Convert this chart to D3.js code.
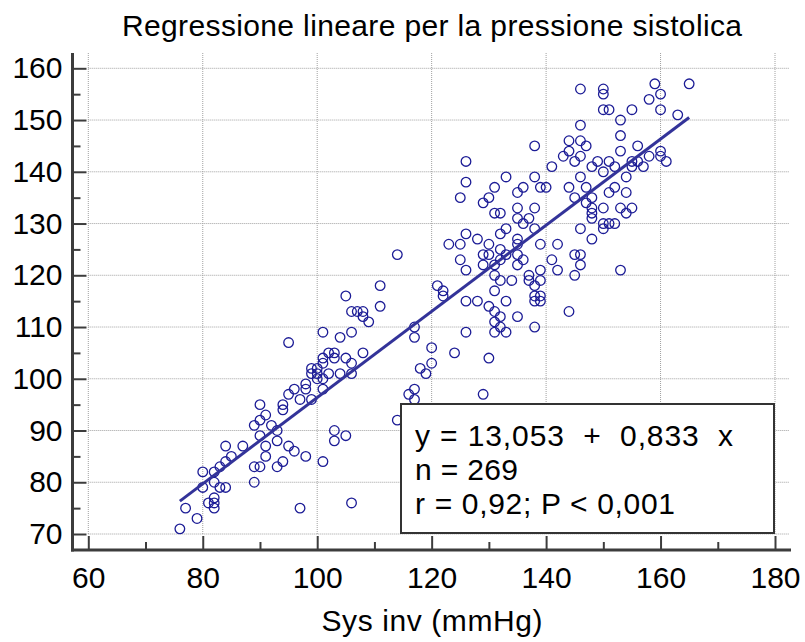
<!DOCTYPE html>
<html><head><meta charset="utf-8">
<script src="https://cdn.jsdelivr.net/npm/d3@7"></script>
<style>
body{margin:0;background:#fff;}
svg text{font-family:"Liberation Sans",Arial,sans-serif;fill:#000;}
</style></head>
<body><svg id="chart" width="805" height="642"></svg>
<script>
const titleText = "Regressione lineare per la pressione sistolica";
const xLabel = "Sys inv (mmHg)";
const xTicks = [60,80,100,120,140,160,180];
const xMinor = [70,90,110,130,150,170];
const yTicks = [70,80,90,100,110,120,130,140,150,160];
const yMinor = [75,85,95,105,115,125,135,145,155];
const intercept = 13.053, slope = 0.833;
const statLines = ["y = 13,053  +  0,833  x", "n = 269", "r = 0,92; P < 0,001"];
const statWidths = [318, 103, 260];

// Sys inv (x) values
const sysInv = [
76,77,79,80,80,81,82,82,82,82,82,83,83,84,84,84,85,87,89,89,90,89,90,90,90,91,91,91,92,93,93,93,94,94,94,
95,95,95,96,96,97,97,98,98,98,99,99,99,100,100,101,101,101,101,101,101,102,102,103,103,103,103,104,104,105,105,
106,106,106,106,107,108,108,109,105,106,108,100,
111,111,114,114,116,117,117,117,117,118,119,120,120,121,122,122,123,124,125,125,125,
126,126,126,126,126,126,128,128,129,129,129,129,130,130,130,130,130,
131,131,131,131,131,131,131,131,132,132,132,132,132,132,132,133,133,133,133,133,134,
135,135,135,135,135,135,135,135,136,136,136,137,137,137,
138,138,138,138,138,138,138,138,139,139,139,139,139,139,140,141,141,142,142,143,
144,144,144,144,145,145,145,145,146,146,146,146,146,146,146,146,
147,147,147,148,148,148,148,148,148,149,150,150,150,150,150,150,150,151,151,151,151,
152,152,152,153,153,153,153,153,154,154,154,155,155,155,155,156,156,157,158,158,159,
160,160,160,160,161,163,165
];
// Sys measured (y) values
const sysMeas = [
71,75,73,82,79,76,82,80,77,76,75,83,79,79,84,87,85,87,80,83,83,91,92,95,89,93,87,85,91,90,88,83,84,95,94,
107,97,87,98,86,96,75,99,98,85,102,101,96,102,100,109,104,103,100,98,84,105,101,105,104,90,88,108,101,104,89,
109,103,76,113,113,113,112,111,116,101,105,101,
118,114,124,92,97,98,96,110,108,102,101,106,103,118,117,116,126,105,126,123,135,
142,138,128,121,115,109,127,115,134,124,122,97,135,126,124,114,104,
137,132,122,120,117,113,111,109,132,128,125,123,119,112,110,139,129,124,115,109,119,
136,133,131,127,126,124,122,112,137,130,123,131,120,119,
145,139,133,129,118,116,115,110,137,126,121,119,116,115,137,141,123,126,121,143,
146,144,137,113,142,135,124,120,156,149,146,143,139,129,124,122,
145,137,134,141,135,133,132,131,127,142,156,155,152,140,133,130,129,152,142,136,130,
141,137,130,150,147,144,133,121,139,136,132,152,142,141,133,145,142,141,154,143,157,
155,152,144,143,142,151,157
];
const points = sysInv.map((v,i)=>({x:v, y:sysMeas[i]}));

const svg = d3.select("#chart");
const x = d3.scaleLinear().domain([60,180]).range([88.3,775]);
const y = d3.scaleLinear().domain([70,160]).range([534,68.3]);
const axL = 72.5, axR = 791, axT = 53, axB = 550;
const axisColor = "#3c3c3c";
const fs = 30;

// grid
const grid = svg.append("g");
grid.selectAll("line.h").data(yTicks).enter().append("line")
  .attr("x1", x(60)).attr("x2", 789).attr("y1", d=>y(d)).attr("y2", d=>y(d))
  .attr("stroke","#a0a0a0").attr("stroke-width",1).attr("stroke-dasharray","1,1");
grid.selectAll("line.v").data(xTicks).enter().append("line")
  .attr("y1", y(70)).attr("y2", axT).attr("x1", d=>x(d)).attr("x2", d=>x(d))
  .attr("stroke","#a0a0a0").attr("stroke-width",1).attr("stroke-dasharray","1,1");

// points
svg.append("g").selectAll("circle").data(points).enter().append("circle")
  .attr("cx", d=>x(d.x)).attr("cy", d=>y(d.y)).attr("r",4.8)
  .attr("fill","none").attr("stroke","#1c1c96").attr("stroke-width",1.3);

// regression line
const ext = d3.extent(sysInv);
svg.append("line")
  .attr("x1", x(ext[0])).attr("y1", y(intercept+slope*ext[0]))
  .attr("x2", x(ext[1])).attr("y2", y(intercept+slope*ext[1]))
  .attr("stroke","#333399").attr("stroke-width",3);

// stats box
const box = svg.append("g");
box.append("rect").attr("x",401).attr("y",404).attr("width",373).attr("height",129)
  .attr("fill","#fff").attr("stroke","#333").attr("stroke-width",2);
box.selectAll("text").data(statLines).enter().append("text")
  .attr("x",415).attr("y",(d,i)=>446+i*34).attr("font-size",fs)
  .attr("textLength",(d,i)=>statWidths[i]).attr("lengthAdjust","spacing")
  .style("white-space","pre").text(d=>d);

// axes
const xAx = svg.append("g").attr("transform",`translate(0,${axB})`)
  .call(d3.axisBottom(x).tickValues(xTicks).tickSize(-14).tickPadding(17).tickFormat(d3.format("d")));
const xAxMinor = svg.append("g").attr("transform",`translate(0,${axB})`)
  .call(d3.axisBottom(x).tickValues(xMinor).tickSize(-8).tickFormat(""));
const yAx = svg.append("g").attr("transform",`translate(${axL},0)`)
  .call(d3.axisLeft(y).tickValues(yTicks).tickSize(-14).tickPadding(10).tickFormat(d3.format("d")));
const yAxMinor = svg.append("g").attr("transform",`translate(${axL},0)`)
  .call(d3.axisLeft(y).tickValues(yMinor).tickSize(-8).tickFormat(""));
[xAx,xAxMinor,yAx,yAxMinor].forEach(g=>{
  g.select(".domain").remove();
  g.selectAll(".tick line").attr("stroke",axisColor).attr("stroke-width",2);
  g.selectAll(".tick text").attr("font-size",fs).attr("font-family",'"Liberation Sans",Arial,sans-serif').attr("fill","#000");
});
svg.append("line").attr("x1",axL).attr("x2",axL).attr("y1",axT).attr("y2",axB+1.5)
  .attr("stroke",axisColor).attr("stroke-width",3);
svg.append("line").attr("x1",axL-1.5).attr("x2",axR).attr("y1",axB).attr("y2",axB)
  .attr("stroke",axisColor).attr("stroke-width",3);

// title and label
svg.append("text").attr("x",432).attr("y",36).attr("text-anchor","middle").attr("font-size",fs)
  .attr("textLength",620).attr("lengthAdjust","spacing").text(titleText);
svg.append("text").attr("x",432).attr("y",631).attr("text-anchor","middle").attr("font-size",fs)
  .attr("textLength",221).attr("lengthAdjust","spacing").text(xLabel);
</script></body></html>
